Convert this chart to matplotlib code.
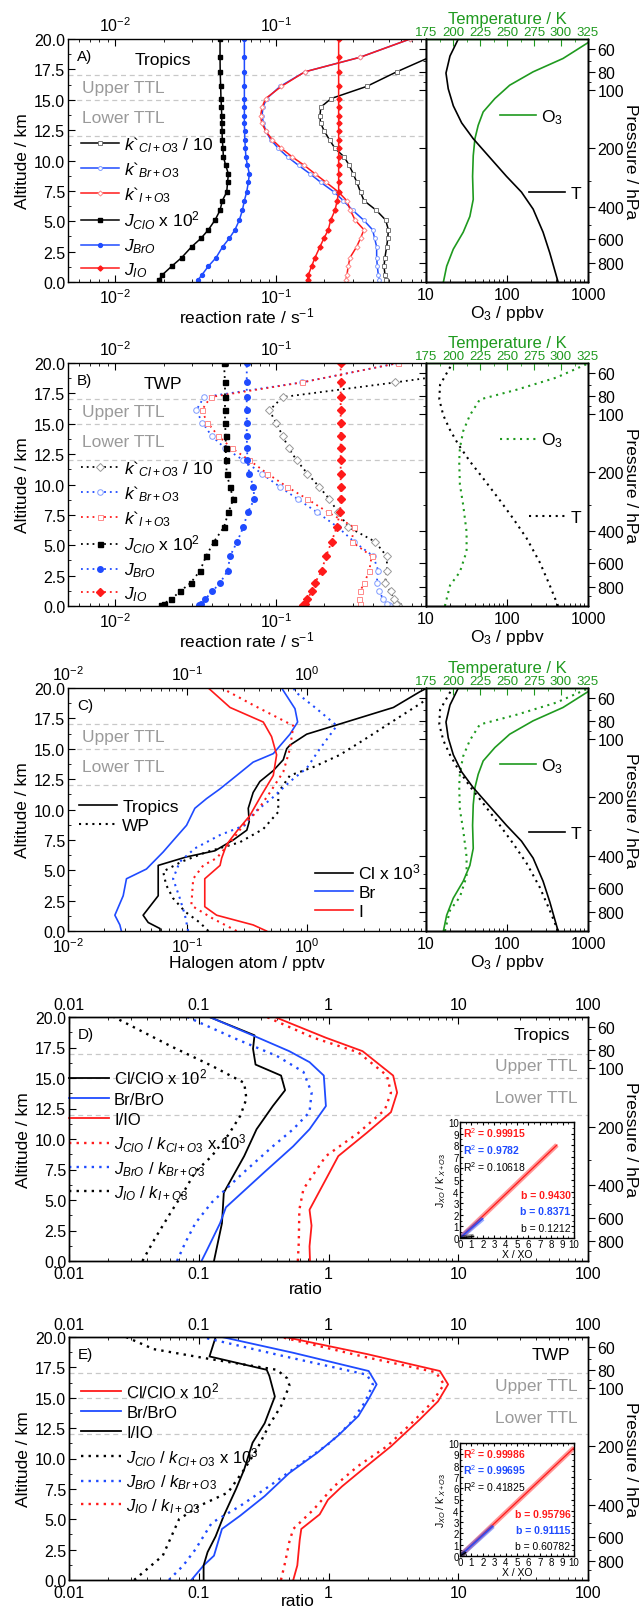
import numpy as np
import matplotlib
matplotlib.use('Agg')
import matplotlib.pyplot as plt
from matplotlib.ticker import MultipleLocator, NullFormatter, FormatStrFormatter

plt.rcParams.update({
    'font.family': ['Liberation Sans', 'DejaVu Sans'],
    'font.size': 11.5,
    'mathtext.fontset': 'custom',
    'mathtext.rm': 'Liberation Sans',
    'mathtext.it': 'Liberation Sans:italic',
    'mathtext.bf': 'Liberation Sans:bold',
    'axes.linewidth': 1.0,
    'xtick.direction': 'in', 'ytick.direction': 'in',
    'xtick.major.size': 5, 'ytick.major.size': 5,
    'xtick.minor.size': 2.5, 'ytick.minor.size': 2.5,
    'xtick.major.pad': 3.5, 'ytick.major.pad': 2,
    'xtick.labelsize': 11.5, 'ytick.labelsize': 11.5,
    'axes.labelsize': 12.5,
})

RED = '#ff1a1a'
BLUE = '#1f4bff'
GREEN = '#1f9a1f'
GREYTXT = '#9a9a9a'
DASH = '#c8c8c8'

# ---------------- data ----------------
ttl_lines = [12, 15, 17]
press_labels = [60, 80, 100, 200, 400, 600, 800]
press_alt = [19.2, 17.3, 15.8, 11.0, 6.2, 3.5, 1.6]
press_minor_alt = [18.2, 16.5, 8.3, 4.7, 2.5, 0.8]

# panel A (Tropics) reaction rates
alt_a = [0.2, 0.6, 1.3, 2.0, 2.9, 3.6, 4.3, 5.1, 5.9, 6.7, 7.4, 8.2, 8.9, 9.6, 10.3, 11.0,
         11.7, 12.4, 13.1, 13.7, 14.4, 15.1, 16.1, 17.3, 18.5, 20.0]
k_cl_a = [0.480, 0.475, 0.469, 0.475, 0.487, 0.495, 0.499, 0.480, 0.420, 0.352, 0.335, 0.318, 0.302,
          0.285, 0.265, 0.2325, 0.215, 0.200, 0.189, 0.1875, 0.190, 0.220, 0.366, 0.562, 0.90, 1.70]
k_br_a = [0.438, 0.432, 0.426, 0.422, 0.422, 0.410, 0.398, 0.350, 0.300, 0.262, 0.230, 0.190, 0.163,
          0.138, 0.118, 0.1034, 0.093, 0.0865, 0.0834, 0.0819, 0.083, 0.0875, 0.106, 0.151, 0.333, 0.68]
k_i_a = [0.272, 0.276, 0.281, 0.288, 0.317, 0.335, 0.352, 0.310, 0.290, 0.275, 0.245, 0.205, 0.175,
         0.150, 0.126, 0.108, 0.095, 0.0865, 0.0815, 0.0803, 0.082, 0.0862, 0.108, 0.151, 0.333, 0.68]
j_clo_a = [0.0188, 0.0197, 0.0225, 0.0259, 0.0299, 0.0342, 0.0380, 0.0418, 0.0449, 0.0464, 0.0494,
           0.0500, 0.0506, 0.0487, 0.0471, 0.0468, 0.0464, 0.0462, 0.0461, 0.0460, 0.0458, 0.0455,
           0.0453, 0.0450, 0.0449, 0.0449]
j_bro_a = [0.0329, 0.0347, 0.0380, 0.0424, 0.0466, 0.0513, 0.0556, 0.0592, 0.0618, 0.0636, 0.0657,
           0.0673, 0.0683, 0.0665, 0.0650, 0.0645, 0.0640, 0.0638, 0.0636, 0.0636, 0.0636, 0.0636,
           0.0636, 0.0636, 0.0636, 0.0636]
j_io_a = [0.157, 0.159, 0.1665, 0.1746, 0.1875, 0.1986, 0.2113, 0.2187, 0.2325, 0.240, 0.245, 0.245,
          0.245, 0.245, 0.245, 0.245, 0.245, 0.245, 0.245, 0.245, 0.245, 0.245, 0.245, 0.245, 0.245, 0.245]

# panel B (TWP) reaction rates
alt_b = [0.05, 0.2, 0.55, 1.2, 1.9, 2.9, 4.1, 5.3, 6.5, 7.7, 8.8, 9.8, 10.9, 12.0, 13.0, 14.0,
         15.1, 16.1, 17.2, 18.4, 20.0]
k_cl_b = [0.575, 0.556, 0.540, 0.515, 0.475, 0.491, 0.487, 0.412, 0.281, 0.2438, 0.2143, 0.1858,
          0.1566, 0.1343, 0.1199, 0.1100, 0.1000, 0.0909, 0.1100, 0.548, 4.0]
k_br_b = [0.506, 0.487, 0.464, 0.438, 0.422, 0.432, 0.402, 0.305, 0.2415, 0.1806, 0.1363, 0.1059,
          0.0815, 0.0627, 0.0482, 0.0398, 0.0349, 0.0319, 0.0357, 0.1443, 0.575]
k_i_b = [0.3326, 0.3326, 0.3295, 0.3326, 0.3537, 0.3799, 0.3927, 0.2951, 0.3052, 0.2114, 0.1566,
         0.1175, 0.0884, 0.0683, 0.0530, 0.0438, 0.0375, 0.0345, 0.0393, 0.1443, 0.575]
j_clo_b = [0.0193, 0.0200, 0.0223, 0.0253, 0.0295, 0.0337, 0.0368, 0.0412, 0.0475, 0.0506, 0.0543,
           0.0518, 0.0494, 0.0489, 0.0487, 0.0487, 0.0482, 0.0482, 0.0482, 0.0482, 0.0475]
j_bro_b = [0.0334, 0.0342, 0.0362, 0.0402, 0.0449, 0.0501, 0.0518, 0.0574, 0.0627, 0.0667, 0.0734,
           0.0723, 0.0683, 0.0664, 0.0661, 0.0658, 0.0658, 0.0658, 0.0658, 0.0658, 0.0658]
j_io_b = [0.1478, 0.1514, 0.1566, 0.1665, 0.1746, 0.1921, 0.2045, 0.2217, 0.2382, 0.2498, 0.2522,
          0.2522, 0.2522, 0.2522, 0.2522, 0.2522, 0.2522, 0.2522, 0.2522, 0.2522, 0.2522]

# temperature and ozone profiles
alt_t_trop = [0, 2.4, 4.1, 6.0, 7.4, 8.7, 10.4, 11.8, 13.1, 14.5, 15.9, 17.2, 18.6, 20.0]
t_trop = [297.3, 289.6, 283.4, 274.2, 263.4, 249.5, 232.6, 218.7, 208.0, 200.3, 195.6, 193.5, 197.2, 204.9]
alt_o3_trop = [0, 1.3, 2.7, 4.1, 5.4, 6.8, 8.7, 10.4, 11.8, 12.9, 14.0, 15.1, 16.2, 17.3, 18.4, 19.7, 20.0]
o3_trop = [16.4, 18.0, 21.7, 28.8, 34.8, 38.3, 37.6, 38.3, 40.2, 44.1, 50.8, 70.8, 108, 210, 492, 1000, 1150]
alt_t_twp = [0, 1.7, 3.6, 5.6, 7.2, 8.7, 10.5, 11.9, 13.3, 14.5, 15.7, 17.0, 18.2, 20.0]
t_twp = [297.3, 289.6, 280.3, 268.0, 255.7, 243.4, 228.0, 215.7, 204.9, 197.2, 191.0, 187.3, 188.0, 199.5]
alt_o3_twp = [0, 1.7, 2.8, 4.5, 6.1, 8.3, 10.0, 11.9, 13.0, 14.4, 15.7, 17.0, 17.8, 18.8, 19.9]
o3_twp = [17.1, 19.8, 26.2, 31.7, 31.7, 28.8, 26.2, 25.7, 26.2, 28.8, 34.8, 46.2, 131, 406, 955]

# panel C halogen atoms
alt_cl_trop = [0.0, 0.2, 0.7, 1.3, 2.9, 5.4, 6.1, 6.6, 7.5, 8.3, 9.0, 10.1, 11.4, 12.3, 13.2, 14.1,
               15.0, 15.3, 16.2, 18.4, 19.7, 20.0]
cl_trop = [0.059, 0.059, 0.047, 0.0426, 0.057, 0.057, 0.0985, 0.170, 0.243, 0.315, 0.33, 0.324,
           0.356, 0.405, 0.525, 0.637, 0.68, 0.724, 1.0, 5.33, 8.9, 10.2]
alt_br_trop = [0, 0.5, 1.3, 2.9, 4.3, 5.1, 6.5, 7.6, 8.7, 10.1, 10.9, 11.7, 12.8, 13.9, 14.6, 16.2,
               17.2, 18.3, 20.0]
br_trop = [0.028, 0.0272, 0.0247, 0.029, 0.0309, 0.0454, 0.0627, 0.0785, 0.0985, 0.1156, 0.145,
           0.188, 0.259, 0.356, 0.525, 0.724, 0.84, 0.798, 0.617]
alt_i_trop = [0, 0.5, 1.3, 2.0, 4.3, 5.4, 6.0, 7.1, 8.2, 9.5, 11.2, 12.8, 14.5, 16.0, 17.2, 18.4, 20.0]
i_trop = [0.461, 0.356, 0.176, 0.140, 0.140, 0.188, 0.194, 0.213, 0.259, 0.334, 0.419, 0.525, 0.56,
          0.508, 0.433, 0.228, 0.150]
alt_cl_wp = [0, 0.7, 1.6, 2.7, 3.8, 4.9, 5.7, 6.5, 7.3, 8.4, 9.8, 11.4, 12.8, 13.5, 14.5, 15.8, 18.7, 20.0]
cl_wp = [0.15, 0.127, 0.0955, 0.0759, 0.0664, 0.0627, 0.0893, 0.145, 0.275, 0.433, 0.578, 0.578,
         0.724, 1.14, 1.9, 3.09, 8.9, 14.0]
alt_br_wp = [0, 1.3, 2.7, 4.3, 5.7, 6.8, 7.9, 8.7, 9.8, 10.9, 12.3, 13.4, 15.0, 16.9, 18.3, 19.7, 20.0]
br_wp = [0.1016, 0.0955, 0.0865, 0.0759, 0.0865, 0.1156, 0.188, 0.303, 0.368, 0.508, 0.724, 1.0,
         1.29, 1.79, 1.21, 0.8, 0.78]
alt_i_wp = [0, 1.0, 2.1, 4.3, 5.4, 6.0, 7.6, 8.7, 9.8, 11.4, 13.1, 15.0, 16.9, 18.6, 20.0]
i_wp = [0.259, 0.165, 0.108, 0.112, 0.136, 0.176, 0.243, 0.294, 0.38, 0.492, 0.637, 0.724, 0.773,
        0.356, 0.194]

# panel D (Tropics) ratios
alt_clclo_d = [0, 3.1, 5.6, 8.6, 10.8, 12.7, 14.0, 15.2, 16.1, 17.4, 18.5, 20]
clclo_d = [0.131, 0.151, 0.156, 0.224, 0.279, 0.372, 0.463, 0.431, 0.274, 0.262, 0.269, 0.121]
alt_brbro_d = [0, 1.0, 3.1, 4.4, 7.3, 9.4, 10.8, 12.7, 15.2, 16.3, 17.2, 18.5, 20]
brbro_d = [0.105, 0.117, 0.146, 0.162, 0.322, 0.534, 0.714, 0.955, 0.92, 0.714, 0.498, 0.26, 0.121]
alt_iio_d = [0, 1.2, 2.9, 4.2, 6.7, 8.6, 10.5, 12.2, 13.8, 15.2, 17.2, 18.3, 20]
iio_d = [0.72, 0.714, 0.74, 0.714, 0.955, 1.19, 1.97, 3.03, 3.38, 3.15, 1.83, 0.955, 0.386]
alt_jcl_d = [0, 1.5, 4.2, 5.9, 8.6, 10.5, 12.4, 13.8, 15.2, 17.1, 18.3, 20]
jcl_d = [0.58, 0.59, 0.596, 0.641, 0.955, 1.70, 2.72, 3.03, 2.82, 1.70, 0.767, 0.334]
alt_jbr_d = [0, 1.5, 3.1, 4.8, 7.3, 9.4, 10.8, 12.2, 13.8, 15.5, 16.8, 18.2, 20]
jbr_d = [0.068, 0.0787, 0.0942, 0.126, 0.224, 0.372, 0.534, 0.714, 0.741, 0.641, 0.401, 0.194, 0.0815]
alt_jio_d = [0, 1.8, 4.0, 5.6, 7.3, 8.6, 10.3, 11.9, 13.3, 14.6, 16.0, 17.6, 20]
jio_d = [0.0368, 0.0457, 0.061, 0.076, 0.094, 0.126, 0.168, 0.209, 0.233, 0.224, 0.126, 0.0611, 0.0222]

# panel E (TWP) ratios
alt_clclo_e = [0, 1.2, 3.3, 4.2, 5.4, 6.6, 7.7, 9.1, 11.0, 13.2, 14.7, 16.1, 17.2, 18.6, 20]
clclo_e = [0.535, 0.575, 0.6, 0.617, 0.855, 0.99, 1.27, 1.83, 3.03, 5.04, 6.98, 8.35, 7.22, 1.97, 0.462]
alt_brbro_e = [0, 1.2, 2.0, 4.2, 5.3, 6.9, 8.8, 10.5, 11.9, 13.5, 14.9, 16.1, 17.2, 18.7, 20]
brbro_e = [0.0877, 0.109, 0.131, 0.151, 0.209, 0.322, 0.498, 0.826, 1.19, 1.70, 2.04, 2.35, 2.04, 0.535, 0.151]
alt_iio_e = [0, 1.2, 2.3, 3.6, 5.3, 7.5, 9.1, 11.3, 12.9, 15.1, 16.8, 17.3, 18.4, 20]
iio_e = [0.109, 0.109, 0.117, 0.135, 0.156, 0.194, 0.224, 0.26, 0.322, 0.386, 0.35, 0.334, 0.121, 0.135]
alt_jcl_e = [0, 2.0, 5.0, 6.1, 7.2, 9.1, 10.7, 12.7, 14.3, 16.0, 16.6, 17.3, 18.2, 19.0, 20]
jcl_e = [0.0318, 0.0528, 0.0705, 0.101, 0.168, 0.224, 0.279, 0.347, 0.43, 0.50, 0.48, 0.40, 0.12, 0.045, 0.0275]
alt_jbr_e = [0, 1.2, 2.5, 4.7, 6.1, 7.7, 9.6, 11.3, 12.9, 14.6, 16.1, 16.9, 18.4, 20]
jbr_e = [0.0589, 0.076, 0.094, 0.126, 0.209, 0.347, 0.617, 1.03, 1.47, 1.90, 2.2, 1.97, 0.462, 0.105]
alt_jio_e = [0, 1.4, 3.1, 4.2, 5.8, 7.7, 9.4, 11.0, 12.9, 14.6, 16.1, 17.1, 18.4, 20]
jio_e = [0.43, 0.462, 0.498, 0.535, 0.767, 1.10, 1.70, 2.82, 4.36, 6.26, 7.76, 6.72, 1.83, 0.43]

# insets: regression slope b, R^2 and range of X/XO (red, blue, black)
inset_d_b = [0.9430, 0.8371, 0.1212]
inset_d_r2 = ['0.99915', '0.9782', '0.10618']
inset_d_b_txt = ['0.9430', '0.8371', '0.1212']
inset_d_xmax = [8.5, 2.0, 1.2]
inset_e_b = [0.95796, 0.91115, 0.60782]
inset_e_r2 = ['0.99986', '0.99695', '0.41825']
inset_e_b_txt = ['0.95796', '0.91115', '0.60782']
inset_e_xmax = [10.0, 2.9, 0.5]

fig = plt.figure(figsize=(6.39, 16.08), dpi=100)

DOT = (0, (1, 2.2))


def left_panel(bottom, xlim, xticks=None):
    ax = fig.add_axes([68 / 639, bottom, 358 / 639, 0.1511])
    ax.set_xscale('log')
    ax.set_xlim(*xlim)
    ax.set_ylim(0, 20)
    if xticks is not None:
        ax.set_xticks(xticks)
    ax.xaxis.set_minor_formatter(NullFormatter())
    ax.set_yticks(np.arange(0, 20.01, 2.5))
    ax.yaxis.set_major_formatter(FormatStrFormatter('%.1f'))
    ax.yaxis.set_minor_locator(MultipleLocator(1.25))
    ax.tick_params(which='both', top=True, labeltop=True, right=False)
    ax.set_ylabel('Altitude / km', labelpad=3)
    for h in ttl_lines:
        ax.axhline(h, color=DASH, lw=0.9, ls=(0, (4, 3)), zorder=0)
    tr = ax.get_yaxis_transform()
    ax.text(0.04, 16.0, 'Upper TTL', color=GREYTXT, fontsize=12.5, va='center', transform=tr)
    ax.text(0.04, 13.5, 'Lower TTL', color=GREYTXT, fontsize=12.5, va='center', transform=tr)
    return ax


def pressure_axis(ax_p, left_ticks, xlab):
    ax_p.set_ylim(0, 20)
    ax_p.set_yticks(press_alt, [str(p) for p in press_labels])
    ax_p.set_yticks(press_minor_alt, minor=True)
    ax_p.tick_params(axis='y', which='both', direction='out', right=True, left=left_ticks,
                     labelright=True, labelleft=False)
    ax_p.set_ylabel('Pressure / hPa', rotation=270, va='center', fontsize=12.5)
    ax_p.yaxis.set_label_coords(xlab, 0.5)


def right_panel(bottom):
    ax_r = fig.add_axes([426 / 639, bottom, 162 / 639, 0.1511])
    ax_r.set_xscale('log')
    ax_r.set_xlim(10, 1000)
    ax_r.set_ylim(0, 20)
    ax_r.set_xticks([10, 100, 1000], ['10', '100', '1000'])
    ax_r.xaxis.set_minor_formatter(NullFormatter())
    ax_r.set_yticks([])
    ax_r.set_xlabel('O$_3$ / ppbv', labelpad=1)
    ax_t = ax_r.twiny()
    ax_t.set_xlim(175, 325)
    ax_t.set_xticks(np.arange(175, 326, 25))
    ax_t.xaxis.set_minor_locator(MultipleLocator(12.5))
    ax_t.tick_params(axis='x', which='both', colors=GREEN, labelsize=9.5, pad=1)
    ax_t.spines['top'].set_color(GREEN)
    ax_t.set_xlabel('Temperature / K', color=GREEN, labelpad=2, fontsize=12)
    ax_p = ax_r.twinx()
    pressure_axis(ax_p, True, (631 - 426) / 162)
    return ax_r, ax_t, ax_p


def right_legends(ax_p, o3_h, t_h, y_o3, y_t):
    kw = dict(frameon=False, handlelength=2.1, handletextpad=0.3, borderpad=0,
              borderaxespad=0, fontsize=12.5, loc='center left')
    leg = ax_p.legend([o3_h], ['O$_3$'], bbox_to_anchor=(0.455, y_o3), **kw)
    ax_p.add_artist(leg)
    ax_p.legend([t_h], ['T'], bbox_to_anchor=(0.636, y_t), **kw)


labels_k = ['$k$`$_{Cl+O3}$ / 10', '$k$`$_{Br+O3}$', '$k$`$_{I+O3}$',
            '$J_{ClO}$ x 10$^2$', '$J_{BrO}$', '$J_{IO}$']
leg_left = dict(loc='center left', frameon=False, handlelength=2.2, handletextpad=0.3,
                labelspacing=0.3, borderpad=0, borderaxespad=0, fontsize=12.5)

# ---------------- panel A ----------------
axA = left_panel(1 - 283 / 1608, (0.0051, 0.855))
hA = []
hA += axA.plot(k_cl_a, alt_a, color='black', lw=1.1, marker='s', ms=2.8, mfc='white', mec='#777777', mew=0.7)
hA += axA.plot(k_br_a, alt_a, color=BLUE, lw=1.1, marker='o', ms=2.8, mfc='white', mec='#7f9bff', mew=0.7)
hA += axA.plot(k_i_a, alt_a, color=RED, lw=1.1, marker='D', ms=2.6, mfc='white', mec='#ff8a8a', mew=0.7)
hA += axA.plot(j_clo_a, alt_a, color='black', lw=1.1, marker='s', ms=2.6)
hA += axA.plot(j_bro_a, alt_a, color=BLUE, lw=1.1, marker='o', ms=2.8)
hA += axA.plot(j_io_a, alt_a, color=RED, lw=1.1, marker='D', ms=2.6)
axA.legend(hA, labels_k, bbox_to_anchor=(0.035, 0.31), **leg_left)
axA.text(0.025, 0.93, 'A)', transform=axA.transAxes, fontsize=11, va='center')
axA.text(0.265, 0.915, 'Tropics', transform=axA.transAxes, fontsize=12.5, ha='center', va='center')
axA.set_xlabel('reaction rate / s$^{-1}$', labelpad=0)

arA, atA, apA = right_panel(1 - 283 / 1608)
o3h = arA.plot(o3_trop, alt_o3_trop, color=GREEN, lw=1.2)[0]
th = atA.plot(t_trop, alt_t_trop, color='black', lw=1.2)[0]
right_legends(apA, o3h, th, 0.68, 0.366)

# ---------------- panel B ----------------
axB = left_panel(1 - 607 / 1608, (0.0051, 0.855))
hB = []
hB += axB.plot(k_cl_b, alt_b, color='black', lw=1.3, ls=DOT, marker='D', ms=3.6, mfc='white', mec='#999999', mew=0.7)
hB += axB.plot(k_br_b, alt_b, color=BLUE, lw=1.3, ls=DOT, marker='o', ms=4, mfc='white', mec='#7f9bff', mew=0.7)
hB += axB.plot(k_i_b, alt_b, color=RED, lw=1.3, ls=DOT, marker='s', ms=3.6, mfc='white', mec='#ff8a8a', mew=0.7)
hB += axB.plot(j_clo_b, alt_b, color='black', lw=1.3, ls=DOT, marker='s', ms=3.6)
hB += axB.plot(j_bro_b, alt_b, color=BLUE, lw=1.3, ls=DOT, marker='o', ms=4)
hB += axB.plot(j_io_b, alt_b, color=RED, lw=1.3, ls=DOT, marker='D', ms=3.6)
axB.legend(hB, labels_k, bbox_to_anchor=(0.035, 0.31), **leg_left)
axB.text(0.025, 0.93, 'B)', transform=axB.transAxes, fontsize=11, va='center')
axB.text(0.265, 0.915, 'TWP', transform=axB.transAxes, fontsize=12.5, ha='center', va='center')
axB.set_xlabel('reaction rate / s$^{-1}$', labelpad=0)

arB, atB, apB = right_panel(1 - 607 / 1608)
o3h = arB.plot(o3_twp, alt_o3_twp, color=GREEN, lw=1.5, ls=DOT)[0]
th = atB.plot(t_twp, alt_t_twp, color='black', lw=1.5, ls=DOT)[0]
right_legends(apB, o3h, th, 0.683, 0.364)

# ---------------- panel C ----------------
axC = left_panel(1 - 932 / 1608, (0.01, 10), xticks=[0.01, 0.1, 1])
axC.plot(cl_trop, alt_cl_trop, color='black', lw=1.2)
axC.plot(br_trop, alt_br_trop, color=BLUE, lw=1.2)
axC.plot(i_trop, alt_i_trop, color=RED, lw=1.2)
axC.plot(cl_wp, alt_cl_wp, color='black', lw=1.5, ls=DOT)
axC.plot(br_wp, alt_br_wp, color=BLUE, lw=1.5, ls=DOT)
axC.plot(i_wp, alt_i_wp, color=RED, lw=1.5, ls=DOT)
legC1 = axC.legend([plt.Line2D([], [], color='black', lw=1.2),
                    plt.Line2D([], [], color='black', lw=1.5, ls=DOT)],
                   ['Tropics', 'WP'], bbox_to_anchor=(0.03, 0.474),
                   **dict(leg_left, labelspacing=0.2))
axC.add_artist(legC1)
axC.legend([plt.Line2D([], [], color=c, lw=1.2) for c in ['black', BLUE, RED]],
           ['Cl x 10$^3$', 'Br', 'I'], bbox_to_anchor=(0.69, 0.167),
           **dict(leg_left, labelspacing=0.2))
axC.text(0.025, 0.93, 'C)', transform=axC.transAxes, fontsize=11, va='center')
axC.set_xlabel('Halogen atom / pptv', labelpad=0)

arC, atC, apC = right_panel(1 - 932 / 1608)
o3h = arC.plot(o3_trop, alt_o3_trop, color=GREEN, lw=1.2)[0]
arC.plot(o3_twp, alt_o3_twp, color=GREEN, lw=1.5, ls=DOT)
th = atC.plot(t_trop, alt_t_trop, color='black', lw=1.2)[0]
atC.plot(t_twp, alt_t_twp, color='black', lw=1.5, ls=DOT)
right_legends(apC, o3h, th, 0.68, 0.40)


# ---------------- panels D and E ----------------
def ratio_panel(top_px, bottom_px):
    ax = fig.add_axes([69 / 639, 1 - bottom_px / 1608, 519 / 639, (bottom_px - top_px) / 1608])
    ax.set_xscale('log')
    ax.set_xlim(0.01, 100)
    ax.set_ylim(0, 20)
    ax.set_xticks([0.01, 0.1, 1, 10, 100], ['0.01', '0.1', '1', '10', '100'])
    ax.xaxis.set_minor_formatter(NullFormatter())
    ax.set_yticks(np.arange(0, 20.01, 2.5))
    ax.yaxis.set_major_formatter(FormatStrFormatter('%.1f'))
    ax.yaxis.set_minor_locator(MultipleLocator(1.25))
    ax.tick_params(which='both', top=True, labeltop=True, right=False)
    ax.set_ylabel('Altitude / km', labelpad=3)
    for h in ttl_lines:
        ax.axhline(h, color=DASH, lw=0.9, ls=(0, (4, 3)), zorder=0)
    tr = ax.get_yaxis_transform()
    ax.text(0.98, 16.0, 'Upper TTL', color=GREYTXT, fontsize=12.5, ha='right', va='center', transform=tr)
    ax.text(0.98, 13.4, 'Lower TTL', color=GREYTXT, fontsize=12.5, ha='right', va='center', transform=tr)
    ax.set_xlabel('ratio', labelpad=1)
    ax_p = ax.twinx()
    pressure_axis(ax_p, False, (631 - 69) / 519)
    return ax


def inset(rect, b_vals, r2, b_txt, xmax):
    ai = fig.add_axes(rect)
    ai.set_xlim(0, 10)
    ai.set_ylim(0, 10)
    ai.set_xticks(range(11))
    ai.set_yticks(range(11))
    ai.xaxis.set_minor_locator(MultipleLocator(0.5))
    ai.yaxis.set_minor_locator(MultipleLocator(0.5))
    ai.tick_params(which='both', labelsize=7, top=True, right=True, pad=1, length=2)
    ai.tick_params(which='minor', length=1.2)
    ai.set_xlabel('X / XO', fontsize=7.5, labelpad=0)
    ai.set_ylabel("J$_{XO}$ / k'$_{X+O3}$", fontsize=7.5, labelpad=0)
    cols = [RED, BLUE, 'black']
    for c, b, xm in zip(cols, b_vals, xmax):
        ai.plot([0, xm], [0, b * xm], color=c, lw=3.5, alpha=0.45, solid_capstyle='butt')
        ai.plot([0, xm], [0, b * xm], color=c, lw=0.9)
    for i, (c, t) in enumerate(zip(cols, r2)):
        ai.text(0.03, 0.91 - i * 0.145, 'R$^2$ = ' + t, color=c, fontsize=7.5,
                fontweight='bold' if c != 'black' else 'normal', transform=ai.transAxes, va='center')
    for i, (c, t) in enumerate(zip(cols, b_txt)):
        ai.text(0.97, 0.37 - i * 0.14, 'b = ' + t, color=c, fontsize=7.5, ha='right',
                fontweight='bold' if c != 'black' else 'normal', transform=ai.transAxes, va='center')
    return ai


leg_kw = dict(loc='center left', frameon=False, handlelength=2.4, handletextpad=0.3,
              labelspacing=0.3, borderpad=0, borderaxespad=0, fontsize=12)
ratio_labels = ['Cl/ClO x 10$^2$', 'Br/BrO', 'I/IO', '$J_{ClO}$ / $k_{Cl+O3}$ x 10$^3$',
                '$J_{BrO}$ / $k_{Br+O3}$', '$J_{IO}$ / $k_{I+O3}$']

axD = ratio_panel(1018, 1262)
hD = []
hD += axD.plot(clclo_d, alt_clclo_d, color='black', lw=1.3)
hD += axD.plot(brbro_d, alt_brbro_d, color=BLUE, lw=1.3)
hD += axD.plot(iio_d, alt_iio_d, color=RED, lw=1.3)
hD += axD.plot(jcl_d, alt_jcl_d, color=RED, lw=1.7, ls=DOT)
hD += axD.plot(jbr_d, alt_jbr_d, color=BLUE, lw=1.7, ls=DOT)
hD += axD.plot(jio_d, alt_jio_d, color='black', lw=1.7, ls=DOT)
axD.legend(hD, ratio_labels, bbox_to_anchor=(0.0, 0.52), **leg_kw)
axD.text(0.016, 0.93, 'D)', transform=axD.transAxes, fontsize=11, va='center')
axD.text(0.965, 0.93, 'Tropics', transform=axD.transAxes, fontsize=12.5, ha='right', va='center')
axD.xaxis.set_label_coords(0.456, -0.08)
inset([460 / 639, 1 - 1239 / 1608, 114 / 639, 116 / 1608], inset_d_b, inset_d_r2, inset_d_b_txt, inset_d_xmax)

axE = ratio_panel(1338, 1581)
hE = []
hE += axE.plot(clclo_e, alt_clclo_e, color=RED, lw=1.3)
hE += axE.plot(brbro_e, alt_brbro_e, color=BLUE, lw=1.3)
hE += axE.plot(iio_e, alt_iio_e, color='black', lw=1.3)
hE += axE.plot(jcl_e, alt_jcl_e, color='black', lw=1.7, ls=DOT)
hE += axE.plot(jbr_e, alt_jbr_e, color=BLUE, lw=1.7, ls=DOT)
hE += axE.plot(jio_e, alt_jio_e, color=RED, lw=1.7, ls=DOT)
axE.legend(hE, ratio_labels, bbox_to_anchor=(0.024, 0.545), **leg_kw)
axE.text(0.016, 0.93, 'E)', transform=axE.transAxes, fontsize=11, va='center')
axE.text(0.965, 0.93, 'TWP', transform=axE.transAxes, fontsize=12.5, ha='right', va='center')
axE.xaxis.set_label_coords(0.44, -0.055)
inset([460 / 639, 1 - 1557 / 1608, 114 / 639, 113 / 1608], inset_e_b, inset_e_r2, inset_e_b_txt, inset_e_xmax)

fig.savefig('out.png', dpi=100)
